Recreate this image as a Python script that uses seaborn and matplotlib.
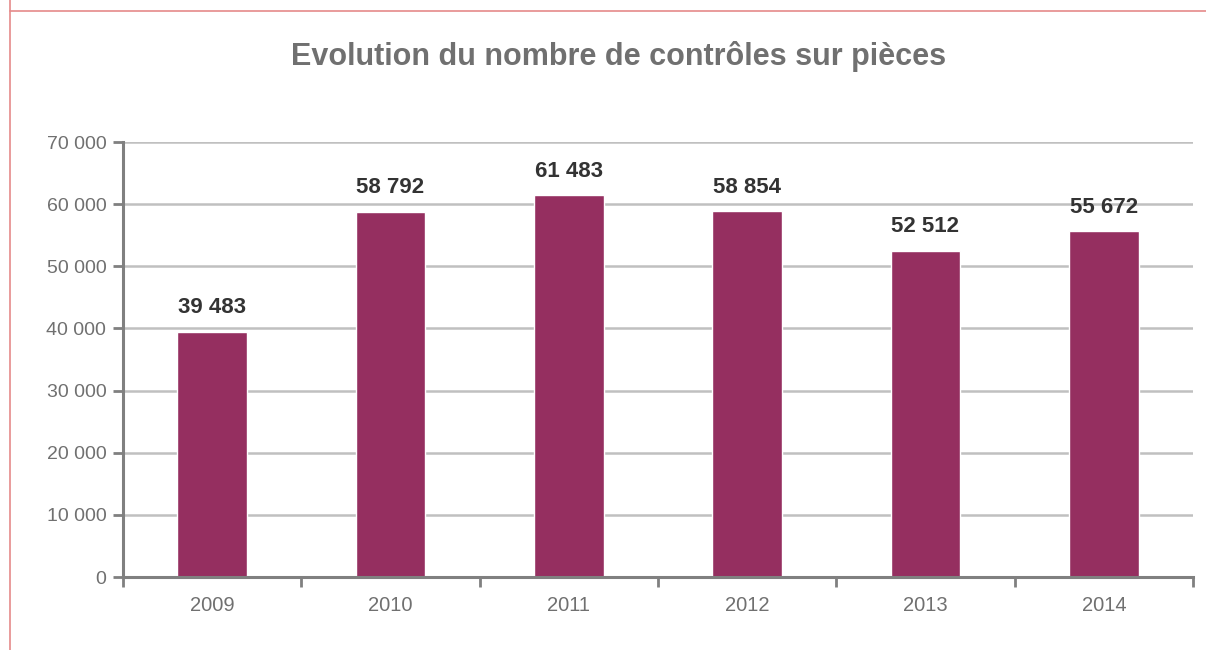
import matplotlib
matplotlib.use("Agg")
import matplotlib.pyplot as plt
import seaborn as sns
import pandas as pd
from matplotlib.ticker import FuncFormatter, FixedLocator
from matplotlib.lines import Line2D

years = ["2009", "2010", "2011", "2012", "2013", "2014"]
values = [39483, 58792, 61483, 58854, 52512, 55672]
title = "Evolution du nombre de contrôles sur pièces"

sns.set_theme(style="white")
plt.rcParams['font.family'] = ['Liberation Sans', 'DejaVu Sans']

df = pd.DataFrame({"year": years, "value": values})

fig = plt.figure(figsize=(12.06, 6.5), dpi=100)
ax = fig.add_axes([123/1206, 1-577/650, (1193-123)/1206, (577-142)/650])

ax.set_axisbelow(True)
for yv in range(10000, 70001, 10000):
    ax.axhline(yv, color="#c0c0c0", lw=1.8, zorder=0)

sns.barplot(data=df, x="year", y="value", color="#952f60", width=0.39,
            saturation=1, ax=ax, zorder=2)

def fmt(v):
    return f"{int(v):,}".replace(",", " ")

for i, v in enumerate(values):
    ax.annotate(fmt(v), (i, v), xytext=(0, 9.5), textcoords="offset points",
                ha="center", va="bottom", fontsize=16, fontweight="bold",
                color="#333333")

ax.set_ylim(0, 70000)
ax.set_xlim(-0.5, 5.5)
ax.set_yticks(range(0, 70001, 10000))
ax.yaxis.set_major_formatter(FuncFormatter(lambda v, p: fmt(v)))
ax.set_xlabel("")
ax.set_ylabel("")

ax.tick_params(axis="y", which="major", length=7, width=2, color="#808080",
               labelsize=14, labelcolor="#707070", pad=5, left=True)
ax.tick_params(axis="x", which="major", length=0, labelsize=14.5,
               labelcolor="#707070", pad=14)
ax.xaxis.set_minor_locator(FixedLocator([i - 0.5 for i in range(len(years) + 1)]))
ax.tick_params(axis="x", which="minor", length=7, width=2, color="#808080",
               bottom=True)

for s in ["top", "right"]:
    ax.spines[s].set_visible(False)
for s in ["left", "bottom"]:
    ax.spines[s].set_color("#808080")
    ax.spines[s].set_linewidth(2.2)

fig.text(0.513, 1 - 56/650, title, ha="center", va="center", fontsize=22,
         fontweight="bold", color="#707070")

fig.add_artist(Line2D([10/1206, 10/1206], [0, 1], color="#e58a8a", lw=1.2,
                      transform=fig.transFigure))
fig.add_artist(Line2D([10/1206, 1], [1 - 11/650, 1 - 11/650], color="#e58a8a",
                      lw=1.2, transform=fig.transFigure))

fig.savefig("out.png", dpi=100, facecolor="white")
